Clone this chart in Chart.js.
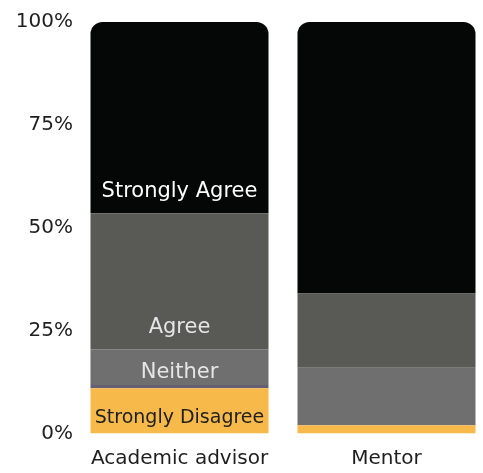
<!DOCTYPE html>
<html>
<head>
<meta charset="utf-8">
<script src="https://cdn.jsdelivr.net/npm/chart.js@4/dist/chart.umd.min.js"></script>
<style>
  html, body { margin: 0; padding: 0; background: #ffffff; overflow: hidden; }
  #wrap { width: 490px; height: 473px; position: relative; }
</style>
</head>
<body>
<div id="wrap"><canvas id="c"></canvas></div>
<script>
const categories = ["Academic advisor", "Mentor"];
const stronglyDisagree = [11, 2];
const disagree = [0.8, 0];
const neither = [8.7, 14];
const agree = [33, 18];
const stronglyAgree = [46.5, 66];
const yTicks = [0, 25, 50, 75, 100];
const segmentLabels = {
  "Strongly Agree": ["Strongly Agree", null],
  "Agree": ["Agree", null],
  "Neither": ["Neither", null],
  "Strongly Disagree": ["Strongly Disagree", null]
};

const labelStyles = {
  "Strongly Agree": { color: "#ffffff", size: 21 },
  "Agree": { color: "#e6e6e6", size: 21 },
  "Neither": { color: "#e6e6e6", size: 21 },
  "Strongly Disagree": { color: "#1e1e1e", size: 19 }
};

const segLabelPlugin = {
  id: "segLabels",
  afterDatasetsDraw(chart) {
    const ctx = chart.ctx;
    ctx.save();
    ctx.textAlign = "center";
    ctx.textBaseline = "middle";
    chart.data.datasets.forEach((ds, di) => {
      const labs = segmentLabels[ds.label];
      if (!labs) return;
      const st = labelStyles[ds.label];
      const meta = chart.getDatasetMeta(di);
      meta.data.forEach((el, i) => {
        const t = labs[i];
        if (!t) return;
        const h = Math.abs(el.base - el.y);
        const off = Math.min(22, 0.35 * h);
        ctx.font = st.size + "px 'DejaVu Sans'";
        ctx.fillStyle = st.color;
        ctx.fillText(t, el.x, el.base - off);
      });
    });
    ctx.restore();
  }
};

new Chart(document.getElementById("c"), {
  type: "bar",
  data: {
    labels: categories,
    datasets: [
      { label: "Strongly Disagree", data: stronglyDisagree, backgroundColor: "#f6b94a" },
      { label: "Disagree", data: disagree, backgroundColor: "#655f72" },
      { label: "Neither", data: neither, backgroundColor: "#6f6f6f" },
      { label: "Agree", data: agree, backgroundColor: "#595955" },
      { label: "Strongly Agree", data: stronglyAgree, backgroundColor: "#050707",
        borderRadius: { topLeft: 12, topRight: 12, bottomLeft: 0, bottomRight: 0 }, borderSkipped: false }
    ]
  },
  options: {
    responsive: true,
    maintainAspectRatio: false,
    animation: false,
    layout: { padding: { top: 22, right: 0, bottom: 0, left: 0 } },
    plugins: { legend: { display: false }, tooltip: { enabled: false } },
    datasets: { bar: { categoryPercentage: 1, barPercentage: 0.86 } },
    scales: {
      x: {
        stacked: true,
        afterFit: (axis) => { axis.height = 39.5; },
        grid: { display: false, drawTicks: false },
        border: { display: false },
        ticks: { color: "#1e1e1e", font: { family: "DejaVu Sans", size: 20 }, padding: 13 }
      },
      y: {
        stacked: true,
        min: 0, max: 100,
        afterBuildTicks: (axis) => { axis.ticks = yTicks.map(v => ({ value: v })); },
        afterFit: (axis) => { axis.width = 76; },
        grid: { display: false, drawTicks: false },
        border: { display: false },
        ticks: { color: "#1e1e1e", font: { family: "DejaVu Sans", size: 20 }, padding: 3,
          callback: (v) => v + "%" }
      }
    }
  },
  plugins: [segLabelPlugin]
});
</script>
</body>
</html>
